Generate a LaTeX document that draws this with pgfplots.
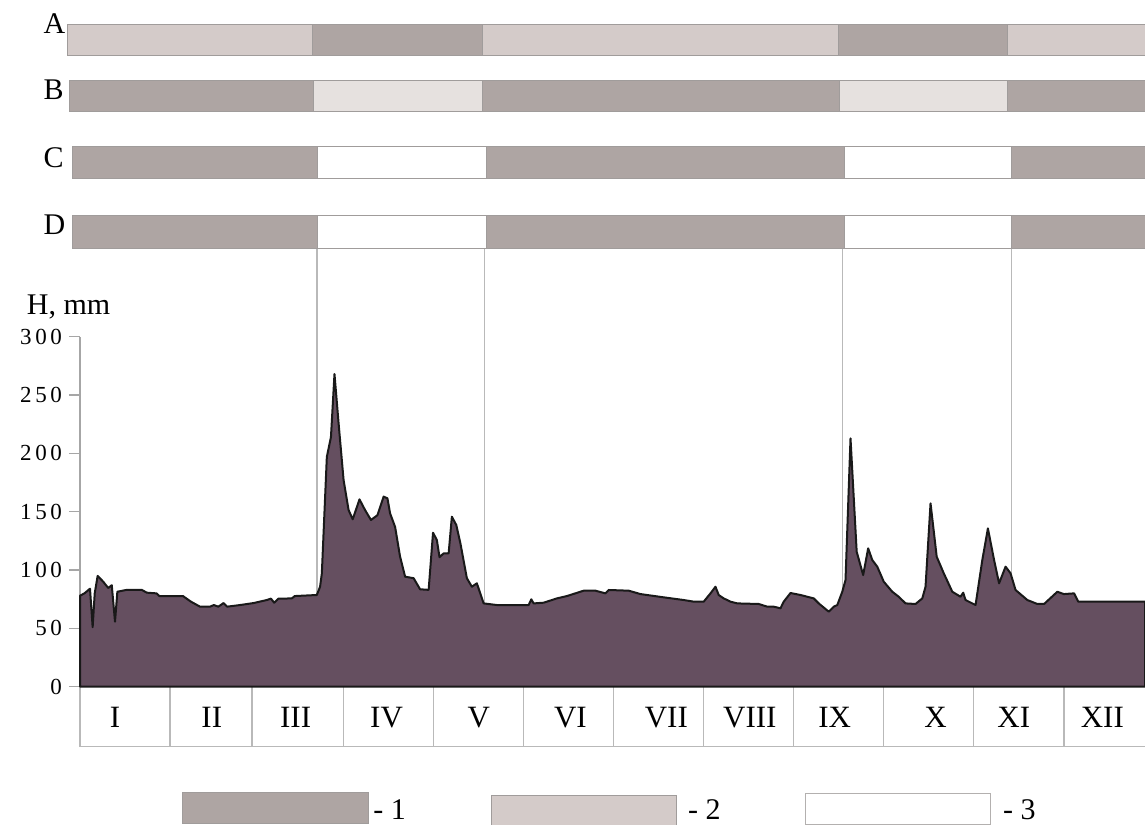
\documentclass[border=0pt]{standalone}
\usepackage{pgfplots}
\pgfplotsset{compat=1.18}
\usepackage{fontspec}
\setmainfont{Liberation Serif}
\definecolor{dark1}{RGB}{174,165,163}
\definecolor{light2}{RGB}{212,203,201}
\definecolor{light2b}{RGB}{230,225,223}
\definecolor{areafill}{RGB}{101,79,96}
\definecolor{bedge}{RGB}{160,156,155}
\definecolor{sepgray}{RGB}{185,185,185}
\pgfplotstableread{
day H
0 78
1.5 80
3.4 84
4.3 51
5 80
6 95
7.9 90
9.6 84.6
10.8 87
11.9 55.7
12.7 81.4
15.9 83
21 83
22.7 80.6
26 80
27 77.7
35 77.7
37.7 72.9
40.8 68.6
44.2 68.6
45.5 70
47 68.6
48.8 71.7
50 68.6
54.4 70
59 71.7
63.5 74.3
64.9 75.5
66 72
67.4 75.4
72 75.7
73 77.7
80.5 78.6
81.6 85.7
82.2 97
83.9 197
85.3 214
86.5 268
87.9 225.7
89.6 177
91.3 151.4
92.7 143.5
95 160.6
96.9 151.4
98.9 142.9
101.1 147
103.2 162.9
104.5 161.5
105.4 148.6
107.1 137
108.8 111.4
110.5 94.3
113.4 93
115.6 83.5
118.5 83
120 132
121.3 125.7
122.2 111
123.6 114.3
125.3 114.3
126.4 145.7
127.9 138.6
129.3 122.9
131.5 93
133.2 85.7
134.9 88.6
137.2 71.4
141.7 70
152.5 70
153.4 74.9
154.2 71.4
157.6 72
162.1 75.7
165.5 77.7
171.2 82.3
175.2 82.3
178.6 80
179.7 82.9
186.5 82.3
190.5 79.4
198.4 76.6
205.2 74.3
208.6 72.9
212 72.9
214.3 80
216 85.7
217.1 78.6
218.8 75.7
221.1 72.9
223.4 71.4
230.7 70.9
233.6 68.6
235.8 68.6
238.1 67.2
239.2 72.9
241.5 80.3
244.9 78.6
249.4 75.7
251.1 71.4
254.5 64.3
256.2 68.6
257.4 70
259.1 81.4
260.2 91.4
261.9 212.9
264 115.7
266.2 95.7
267.9 118.6
269.3 108.6
271 102.9
273.2 90
276.1 81.4
278.3 77.1
280.6 71.4
284 70.9
286.3 75.7
287.4 85.7
289.1 157.2
291.2 111.4
293.6 97.2
296.5 81.4
299.3 77.1
300.2 80.6
301 74.3
304.4 70
306.7 108.6
308.6 135.7
310.7 108.6
312.4 88.6
314.6 102.9
316.3 97.2
318 82.9
322 74.3
325.4 70.9
327.7 70.9
332.2 81.4
334.4 79.4
337.9 80
339.3 72.9
362 72.9
}\Hdata
\newcommand{\seg}[5]{\addplot[fill=#1, draw=bedge, line width=0.5pt] coordinates {(#2,#4) (#3,#4) (#3,#5) (#2,#5)} -- cycle;}
\begin{document}
\begin{tikzpicture}
\useasboundingbox (-40pt,-68.65pt) rectangle (532.5pt,343.35pt);
\begin{axis}[
  at={(0,0)}, anchor=south west,
  scale only axis, width=532.5pt, height=175pt,
  xmin=0, xmax=362, ymin=0, ymax=300,
  clip=false,
  axis x line=none,
  axis y line*=left,
  y axis line style={draw=gray!70, line width=0.7pt},
  ytick={0,50,100,150,200,250,300},
  yticklabels={0, 5\kern1.8pt0, 1\kern1.8pt0\kern1.8pt0, 1\kern1.8pt5\kern1.8pt0, 2\kern1.8pt0\kern1.8pt0, 2\kern1.8pt5\kern1.8pt0, 3\kern1.8pt0\kern1.8pt0},
  tick align=outside,
  major tick length=5.5pt,
  ytick style={draw=gray!70, line width=0.7pt},
  yticklabel style={font=\fontsize{11.5}{13}\selectfont, anchor=east},
]
% separators from the season bars down into the plot
\addplot[sepgray, line width=0.7pt] coordinates {(80.6,0) (80.6,376)};
\addplot[sepgray, line width=0.7pt] coordinates {(137.4,0) (137.4,376)};
\addplot[sepgray, line width=0.7pt] coordinates {(259.2,0) (259.2,376)};
\addplot[sepgray, line width=0.7pt] coordinates {(316.7,0) (316.7,376)};
% row A
\seg{light2}{-4.1}{78.9}{541.4}{568}
\seg{dark1}{78.9}{136.7}{541.4}{568}
\seg{light2}{136.7}{257.8}{541.4}{568}
\seg{dark1}{257.8}{315.3}{541.4}{568}
\seg{light2}{315.3}{363}{541.4}{568}
% row B
\seg{dark1}{-3.7}{79.3}{493.4}{520}
\seg{light2b}{79.3}{136.7}{493.4}{520}
\seg{dark1}{136.7}{258.2}{493.4}{520}
\seg{light2b}{258.2}{315.3}{493.4}{520}
\seg{dark1}{315.3}{363}{493.4}{520}
% row C
\seg{dark1}{-2.4}{80.6}{435.2}{462.6}
\seg{white}{80.6}{138.1}{435.2}{462.6}
\seg{dark1}{138.1}{259.9}{435.2}{462.6}
\seg{white}{259.9}{316.7}{435.2}{462.6}
\seg{dark1}{316.7}{363}{435.2}{462.6}
% row D
\seg{dark1}{-2.4}{80.6}{376}{403.5}
\seg{white}{80.6}{138.1}{376}{403.5}
\seg{dark1}{138.1}{259.9}{376}{403.5}
\seg{white}{259.9}{316.7}{376}{403.5}
\seg{dark1}{316.7}{363}{376}{403.5}
% month boxes
\draw[sepgray, line width=0.7pt] (axis cs:0,0) -- (axis cs:0,-51.4) -- (axis cs:363,-51.4);
\foreach \m in {30.6,58.5,89.5,120.1,150.7,181.3,211.9,242.5,273.1,303.7,334.4}{
  \edef\tmp{\noexpand\draw[sepgray, line width=0.7pt] (axis cs:\m,0) -- (axis cs:\m,-51.4);}\tmp
}
% water level
\addplot[fill=areafill, draw=black!90, line width=1pt, line join=round] table[x=day, y=H] {\Hdata} \closedcycle;
% month labels
\begin{scope}[every node/.style={font=\fontsize{15.5}{18}\selectfont, anchor=center, inner sep=0pt}]
\node at (axis cs:11.9,-26.2) {I};
\node at (axis cs:44.8,-26.2) {II};
\node at (axis cs:73.3,-26.2) {III};
\node at (axis cs:104.2,-26.2) {IV};
\node at (axis cs:135.6,-26.2) {V};
\node at (axis cs:166.7,-26.2) {VI};
\node at (axis cs:199.3,-26.2) {VII};
\node at (axis cs:227.7,-26.2) {VIII};
\node at (axis cs:256.5,-26.2) {IX};
\node at (axis cs:290.8,-26.2) {X};
\node at (axis cs:317.4,-26.2) {XI};
\node at (axis cs:347.5,-26.2) {XII};
\end{scope}
% row letters
\begin{scope}[every node/.style={font=\fontsize{15}{18}\selectfont, anchor=base west, inner sep=0pt}]
\node at (axis cs:-12.5,560) {A};
\node at (axis cs:-12.5,502.9) {B};
\node at (axis cs:-12.5,444.6) {C};
\node at (axis cs:-12.5,387.2) {D};
\end{scope}
\node[font=\fontsize{15}{18}\selectfont, anchor=base west, inner sep=0pt] at (axis cs:-18.2,318.9) {H, mm};
% legend
\draw[bedge, fill=dark1, line width=0.5pt] (axis cs:34.7,-90.9) rectangle (axis cs:97.9,-117.5);
\draw[bedge, fill=light2, line width=0.5pt] (axis cs:139.9,-92.9) rectangle (axis cs:202.8,-118.6);
\draw[bedge!80, fill=white, line width=0.5pt] (axis cs:246.7,-91.9) rectangle (axis cs:309.6,-117.9);
\begin{scope}[every node/.style={font=\fontsize{15}{18}\selectfont, anchor=base west, inner sep=0pt}]
\node at (axis cs:99.6,-113.8) {- 1};
\node at (axis cs:206.6,-113.8) {- 2};
\node at (axis cs:313.6,-113.8) {- 3};
\end{scope}
\end{axis}
\end{tikzpicture}
\end{document}
